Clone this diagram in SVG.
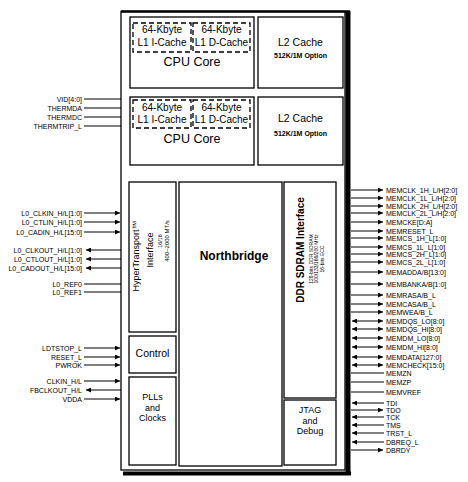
<svg xmlns="http://www.w3.org/2000/svg" width="468" height="482" viewBox="0 0 468 482">
<style>
text{font-family:"Liberation Sans",Arial,sans-serif;fill:#000}
.sig{font-size:7px}
.l{text-anchor:end}
.c{text-anchor:middle}
.box{fill:#fff;stroke:#000;stroke-width:1.3}
.dash{fill:none;stroke:#000;stroke-width:1.3;stroke-dasharray:5,3}
.ln{stroke:#000;stroke-width:1;fill:none}
.big{font-size:12.5px}
.mid{font-size:10px}
.lbl{font-size:10.5px}
.stk{font-size:9px}
.opt{font-size:7px;font-weight:bold}
.tiny{font-size:5.5px}
</style>
<defs>
<marker id="ah" viewBox="0 0 10 10" refX="10" refY="5" markerWidth="6" markerHeight="5" orient="auto-start-reverse" markerUnits="userSpaceOnUse">
<path d="M0,0 L10,5 L0,10 z" fill="#000"/>
</marker>
</defs>

<g id="chip">
<rect x="121" y="11.5" width="224" height="458.5" fill="#fff" stroke="#000" stroke-width="1.3"/>
<line x1="121" y1="11.5" x2="350" y2="11.5" stroke="#000" stroke-width="2.5"/>
<rect x="345.5" y="11" width="5" height="464" fill="#000"/>
<rect x="123" y="471.5" width="228" height="4" fill="#000"/>
</g>

<g id="cpu1">
<rect class="box" x="130" y="17" width="124" height="71"/>
<rect class="dash" x="133" y="23" width="58" height="29"/>
<rect class="dash" x="193" y="23" width="57" height="29"/>
<text class="mid c" x="162" y="32.5">64-Kbyte</text>
<text class="mid c" x="162" y="45.5">L1 I-Cache</text>
<text class="mid c" x="221.5" y="32.5">64-Kbyte</text>
<text class="mid c" x="221.5" y="45.5">L1 D-Cache</text>
<text class="big c" x="192" y="65.5">CPU Core</text>
</g>
<g id="l2a">
<rect class="box" x="258" y="17" width="85" height="71"/>
<text class="lbl c" x="300.5" y="45.5">L2 Cache</text>
<text class="opt c" x="300.5" y="57.5">512K/1M Option</text>
</g>

<g id="cpu2">
<rect class="box" x="130" y="97" width="124" height="68"/>
<rect class="dash" x="133" y="100" width="58" height="28"/>
<rect class="dash" x="193" y="100" width="57" height="28"/>
<text class="mid c" x="162" y="110.5">64-Kbyte</text>
<text class="mid c" x="162" y="122.5">L1 I-Cache</text>
<text class="mid c" x="221.5" y="110.5">64-Kbyte</text>
<text class="mid c" x="221.5" y="122.5">L1 D-Cache</text>
<text class="big c" x="192" y="142.5">CPU Core</text>
</g>
<g id="l2b">
<rect class="box" x="258" y="97" width="85" height="68"/>
<text class="lbl c" x="300.5" y="121.5">L2 Cache</text>
<text class="opt c" x="300.5" y="135.5">512K/1M Option</text>
</g>

<g id="ht">
<rect class="box" x="129" y="182" width="47" height="150"/>
<text class="c" font-size="9" transform="translate(138.5,256) rotate(-90)">HyperTransport™</text>
<text class="c" font-size="9" transform="translate(153,250) rotate(-90)">Interface</text>
<text class="c tiny" transform="translate(162,241) rotate(-90)">16/16</text>
<text class="c" font-size="6" transform="translate(169,241) rotate(-90)">400–2000 MT/s</text>
</g>

<g id="control">
<rect class="box" x="129" y="336" width="47" height="37"/>
<text class="lbl c" x="152.5" y="357">Control</text>
</g>

<g id="plls">
<rect class="box" x="129" y="377" width="47" height="88"/>
<text class="stk c" x="152.5" y="400">PLLs</text>
<text class="stk c" x="152.5" y="410.5">and</text>
<text class="stk c" x="152.5" y="421">Clocks</text>
</g>

<g id="northbridge">
<rect class="box" x="179" y="182" width="103" height="284"/>
<text class="c" font-size="12" font-weight="bold" x="234" y="259.5">Northbridge</text>
</g>

<g id="ddr">
<rect class="box" x="284" y="182" width="52" height="216"/>
<text class="c" font-size="10" font-weight="bold" transform="translate(303.5,250) rotate(-90)">DDR SDRAM Interface</text>
<text class="c" font-size="5" transform="translate(313,259) rotate(-90)">128-bits DDR SDRAM</text>
<text class="c" font-size="5" transform="translate(318,259) rotate(-90)">100/133/166/200 MHz</text>
<text class="c" font-size="5" transform="translate(323.5,259) rotate(-90)">16-bits ECC</text>
</g>

<g id="jtag">
<rect class="box" x="284" y="400" width="52" height="65"/>
<text class="stk c" x="310" y="413">JTAG</text>
<text class="stk c" x="310" y="423.5">and</text>
<text class="stk c" x="310" y="434">Debug</text>
</g>

<g id="connectors">
<line class="ln" x1="84" y1="99" x2="121" y2="99"/>
<line class="ln" x1="84" y1="108" x2="121" y2="108"/>
<line class="ln" x1="84" y1="117" x2="121" y2="117"/>
<line class="ln" x1="84" y1="126" x2="121" y2="126"/>
<line class="ln" x1="84" y1="213" x2="120" y2="213" marker-end="url(#ah)"/>
<line class="ln" x1="84" y1="222" x2="120" y2="222" marker-end="url(#ah)"/>
<line class="ln" x1="84" y1="232" x2="120" y2="232" marker-end="url(#ah)"/>
<line class="ln" x1="121" y1="250" x2="86" y2="250" marker-end="url(#ah)"/>
<line class="ln" x1="121" y1="259" x2="86" y2="259" marker-end="url(#ah)"/>
<line class="ln" x1="121" y1="268" x2="86" y2="268" marker-end="url(#ah)"/>
<line class="ln" x1="84" y1="284" x2="121" y2="284"/>
<line class="ln" x1="84" y1="292" x2="121" y2="292"/>
<line class="ln" x1="84" y1="348" x2="120" y2="348" marker-end="url(#ah)"/>
<line class="ln" x1="84" y1="357" x2="120" y2="357" marker-end="url(#ah)"/>
<line class="ln" x1="84" y1="365" x2="120" y2="365" marker-end="url(#ah)"/>
<line class="ln" x1="84" y1="381" x2="120" y2="381" marker-end="url(#ah)"/>
<line class="ln" x1="121" y1="390" x2="86" y2="390" marker-end="url(#ah)"/>
<line class="ln" x1="84" y1="399" x2="120" y2="399" marker-end="url(#ah)"/>
<line class="ln" x1="351" y1="190" x2="383" y2="190" marker-end="url(#ah)"/>
<line class="ln" x1="351" y1="198" x2="383" y2="198" marker-end="url(#ah)"/>
<line class="ln" x1="351" y1="206" x2="383" y2="206" marker-end="url(#ah)"/>
<line class="ln" x1="351" y1="213" x2="383" y2="213" marker-end="url(#ah)"/>
<line class="ln" x1="351" y1="222" x2="383" y2="222" marker-end="url(#ah)"/>
<line class="ln" x1="351" y1="231" x2="383" y2="231" marker-end="url(#ah)"/>
<line class="ln" x1="351" y1="238" x2="383" y2="238" marker-end="url(#ah)"/>
<line class="ln" x1="351" y1="247" x2="383" y2="247" marker-end="url(#ah)"/>
<line class="ln" x1="351" y1="254" x2="383" y2="254" marker-end="url(#ah)"/>
<line class="ln" x1="351" y1="262" x2="383" y2="262" marker-end="url(#ah)"/>
<line class="ln" x1="351" y1="272" x2="383" y2="272" marker-end="url(#ah)"/>
<line class="ln" x1="351" y1="284" x2="383" y2="284" marker-end="url(#ah)"/>
<line class="ln" x1="351" y1="295" x2="383" y2="295" marker-end="url(#ah)"/>
<line class="ln" x1="351" y1="304" x2="383" y2="304" marker-end="url(#ah)"/>
<line class="ln" x1="351" y1="312" x2="383" y2="312" marker-end="url(#ah)"/>
<line class="ln" x1="352" y1="321" x2="383" y2="321" marker-start="url(#ah)" marker-end="url(#ah)"/>
<line class="ln" x1="352" y1="329" x2="383" y2="329" marker-start="url(#ah)" marker-end="url(#ah)"/>
<line class="ln" x1="352" y1="338" x2="383" y2="338" marker-start="url(#ah)" marker-end="url(#ah)"/>
<line class="ln" x1="352" y1="347" x2="383" y2="347" marker-start="url(#ah)" marker-end="url(#ah)"/>
<line class="ln" x1="352" y1="357" x2="383" y2="357" marker-start="url(#ah)" marker-end="url(#ah)"/>
<line class="ln" x1="352" y1="365" x2="383" y2="365" marker-start="url(#ah)" marker-end="url(#ah)"/>
<line class="ln" x1="351" y1="373" x2="384" y2="373"/>
<line class="ln" x1="351" y1="382" x2="384" y2="382"/>
<line class="ln" x1="351" y1="392" x2="384" y2="392"/>
<line class="ln" x1="384" y1="403" x2="352" y2="403" marker-end="url(#ah)"/>
<line class="ln" x1="351" y1="410" x2="383" y2="410" marker-end="url(#ah)"/>
<line class="ln" x1="384" y1="417" x2="352" y2="417" marker-end="url(#ah)"/>
<line class="ln" x1="384" y1="425" x2="352" y2="425" marker-end="url(#ah)"/>
<line class="ln" x1="384" y1="433" x2="352" y2="433" marker-end="url(#ah)"/>
<line class="ln" x1="384" y1="442" x2="352" y2="442" marker-end="url(#ah)"/>
<line class="ln" x1="351" y1="450" x2="383" y2="450" marker-end="url(#ah)"/>
</g>

<g id="labels-left">
<text class="sig l" x="82" y="101.5">VID[4:0]</text>
<text class="sig l" x="82" y="110.5">THERMDA</text>
<text class="sig l" x="82" y="119.5">THERMDC</text>
<text class="sig l" x="82" y="128.5">THERMTRIP_L</text>
<text class="sig l" x="82" y="215.5">L0_CLKIN_H/L[1:0]</text>
<text class="sig l" x="82" y="224.5">L0_CTLIN_H/L[1:0]</text>
<text class="sig l" x="82" y="234.5">L0_CADIN_H/L[15:0]</text>
<text class="sig l" x="82" y="252.5">L0_CLKOUT_H/L[1:0]</text>
<text class="sig l" x="82" y="261.5">L0_CTLOUT_H/L[1:0]</text>
<text class="sig l" x="82" y="270.5">L0_CADOUT_H/L[15:0]</text>
<text class="sig l" x="82" y="286.5">L0_REF0</text>
<text class="sig l" x="82" y="294.5">L0_REF1</text>
<text class="sig l" x="82" y="350.5">LDTSTOP_L</text>
<text class="sig l" x="82" y="359.5">RESET_L</text>
<text class="sig l" x="82" y="367.5">PWROK</text>
<text class="sig l" x="82" y="383.5">CLKIN_H/L</text>
<text class="sig l" x="82" y="392.5">FBCLKOUT_H/L</text>
<text class="sig l" x="82" y="401.5">VDDA</text>
</g>

<g id="labels-right">
<text class="sig" x="386" y="192.5">MEMCLK_1H_L/H[2:0]</text>
<text class="sig" x="386" y="200.5">MEMCLK_1L_L/H[2:0]</text>
<text class="sig" x="386" y="208.5">MEMCLK_2H_L/H[2:0]</text>
<text class="sig" x="386" y="215.5">MEMCLK_2L_L/H[2:0]</text>
<text class="sig" x="386" y="224.5">MEMCKE[D:A]</text>
<text class="sig" x="386" y="233.5">MEMRESET_L</text>
<text class="sig" x="386" y="240.5">MEMCS_1H_L[1:0]</text>
<text class="sig" x="386" y="249.5">MEMCS_1L_L[1:0]</text>
<text class="sig" x="386" y="256.5">MEMCS_2H_L[1:0]</text>
<text class="sig" x="386" y="264.5">MEMCS_2L_L[1:0]</text>
<text class="sig" x="386" y="274.5">MEMADDA/B[13:0]</text>
<text class="sig" x="386" y="286.5">MEMBANKA/B[1:0]</text>
<text class="sig" x="386" y="297.5">MEMRASA/B_L</text>
<text class="sig" x="386" y="306.5">MEMCASA/B_L</text>
<text class="sig" x="386" y="314.5">MEMWEA/B_L</text>
<text class="sig" x="386" y="323.5">MEMDQS_LO[8:0]</text>
<text class="sig" x="386" y="331.5">MEMDQS_HI[8:0]</text>
<text class="sig" x="386" y="340.5">MEMDM_LO[8:0]</text>
<text class="sig" x="386" y="349.5">MEMDM_HI[8:0]</text>
<text class="sig" x="386" y="359.5">MEMDATA[127:0]</text>
<text class="sig" x="386" y="367.5">MEMCHECK[15:0]</text>
<text class="sig" x="386" y="375.5">MEMZN</text>
<text class="sig" x="386" y="384.5">MEMZP</text>
<text class="sig" x="386" y="394.5">MEMVREF</text>
<text class="sig" x="386" y="405.5">TDI</text>
<text class="sig" x="386" y="412.5">TDO</text>
<text class="sig" x="386" y="419.5">TCK</text>
<text class="sig" x="386" y="427.5">TMS</text>
<text class="sig" x="386" y="435.5">TRST_L</text>
<text class="sig" x="386" y="444.5">DBREQ_L</text>
<text class="sig" x="386" y="452.5">DBRDY</text>
</g>
</svg>
